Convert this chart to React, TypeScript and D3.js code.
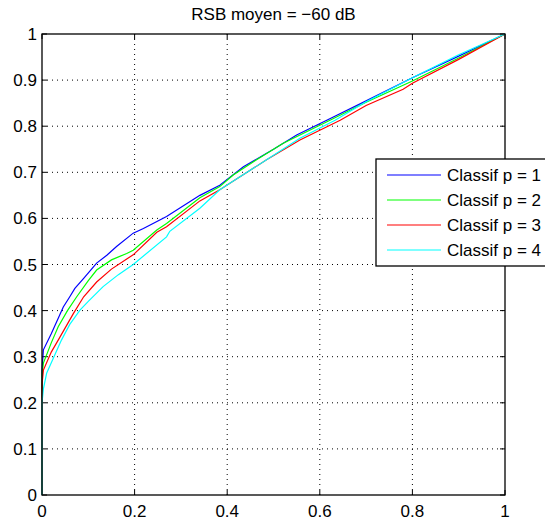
import React from "react";
import * as d3 from "d3";

const W = 545;
const H = 523;
const M = { left: 42, right: 40, top: 34, bottom: 28 };

const titleText = "RSB moyen = \u221260 dB";
const xTicks = [0, 0.2, 0.4, 0.6, 0.8, 1];
const yTicks = [0, 0.1, 0.2, 0.3, 0.4, 0.5, 0.6, 0.7, 0.8, 0.9, 1];
const seriesNames = ["Classif p = 1", "Classif p = 2", "Classif p = 3", "Classif p = 4"];
const seriesColors = ["#0000ff", "#00ff00", "#ff0000", "#00ffff"];

const p1: [number, number][] = [
  [0, 0], [0, 0.27], [0.003, 0.315], [0.02, 0.35], [0.046, 0.408], [0.06, 0.43], [0.071, 0.448],
  [0.09, 0.47], [0.118, 0.503], [0.14, 0.52], [0.161, 0.539], [0.197, 0.568], [0.219, 0.578],
  [0.269, 0.604], [0.341, 0.65], [0.384, 0.672], [0.435, 0.712], [0.5, 0.75], [0.55, 0.781],
  [0.615, 0.813], [0.7, 0.855], [0.8, 0.905], [0.9, 0.952], [1, 1],
];
const p2: [number, number][] = [
  [0, 0], [0, 0.26], [0.003, 0.286], [0.02, 0.33], [0.035, 0.365], [0.055, 0.4], [0.075, 0.43],
  [0.1, 0.465], [0.118, 0.488], [0.15, 0.51], [0.183, 0.524], [0.197, 0.531], [0.248, 0.575],
  [0.269, 0.589], [0.341, 0.645], [0.384, 0.669], [0.413, 0.694], [0.46, 0.725], [0.521, 0.763],
  [0.622, 0.813], [0.7, 0.852], [0.8, 0.898], [0.9, 0.948], [1, 1],
];
const p3: [number, number][] = [
  [0, 0], [0, 0.24], [0.003, 0.271], [0.02, 0.31], [0.035, 0.336], [0.068, 0.394], [0.09, 0.43],
  [0.118, 0.462], [0.15, 0.49], [0.183, 0.512], [0.197, 0.521], [0.248, 0.57], [0.269, 0.582],
  [0.341, 0.638], [0.384, 0.662], [0.399, 0.672], [0.485, 0.727], [0.557, 0.77], [0.644, 0.813],
  [0.7, 0.845], [0.78, 0.88], [0.8, 0.893], [0.9, 0.945], [1, 1],
];
const p4: [number, number][] = [
  [0, 0], [0, 0.2], [0.003, 0.23], [0.01, 0.264], [0.042, 0.336], [0.06, 0.37], [0.082, 0.401],
  [0.1, 0.42], [0.132, 0.452], [0.165, 0.478], [0.197, 0.5], [0.269, 0.56], [0.276, 0.572],
  [0.341, 0.622], [0.384, 0.662], [0.399, 0.672], [0.485, 0.727], [0.557, 0.774], [0.633, 0.813],
  [0.7, 0.853], [0.8, 0.905], [0.9, 0.955], [1, 1],
];
const seriesData = [p1, p2, p3, p4];

export default function App() {
  const x = d3.scaleLinear().domain([0, 1]).range([M.left, W - M.right]);
  const y = d3.scaleLinear().domain([0, 1]).range([H - M.bottom, M.top]);
  const line = d3
    .line<[number, number]>()
    .x((d) => x(d[0]))
    .y((d) => y(d[1]));
  const x0 = x(0), x1 = x(1), y0 = y(0), y1 = y(1);
  const font = "'Liberation Sans', Arial, Helvetica, sans-serif";
  const fs = 17;
  const tick = 5;
  const lgX = 376, lgY = 159, lgRow = 25;
  return (
    <svg width={W} height={H} style={{ position: "absolute", left: 0, top: 0, display: "block", background: "#fff" }} fontFamily={font}>
      <rect x={0} y={0} width={W} height={H} fill="#fff" />
      {xTicks.slice(1, -1).map((t) => (
        <line key={"gx" + t} x1={x(t)} x2={x(t)} y1={y0} y2={y1} stroke="#000" strokeWidth={1} strokeDasharray="1,4" />
      ))}
      {yTicks.slice(1, -1).map((t) => (
        <line key={"gy" + t} x1={x0} x2={x1} y1={y(t)} y2={y(t)} stroke="#000" strokeWidth={1} strokeDasharray="1,4" />
      ))}
      {xTicks.map((t) => (
        <g key={"tx" + t}>
          <line x1={x(t)} x2={x(t)} y1={y0} y2={y0 - tick} stroke="#000" />
          <line x1={x(t)} x2={x(t)} y1={y1} y2={y1 + tick} stroke="#000" />
          <text x={x(t)} y={y0 + 22} fontSize={fs} textAnchor="middle" fill="#000">{String(t)}</text>
        </g>
      ))}
      {yTicks.map((t) => (
        <g key={"ty" + t}>
          <line x1={x0} x2={x0 + tick} y1={y(t)} y2={y(t)} stroke="#000" />
          <line x1={x1} x2={x1 - tick} y1={y(t)} y2={y(t)} stroke="#000" />
          <text x={x0 - 5} y={y(t) + 6} fontSize={fs} textAnchor="end" fill="#000">{String(t)}</text>
        </g>
      ))}
      {seriesData.map((d, i) => (
        <path key={"s" + i} d={line(d) || ""} fill="none" stroke={seriesColors[i]} strokeWidth={1.2} />
      ))}
      <rect x={x0} y={y1} width={x1 - x0} height={y0 - y1} fill="none" stroke="#000" strokeWidth={1.3} />
      <text x={(x0 + x1) / 2} y={20} fontSize={fs} textAnchor="middle" fill="#000">{titleText}</text>
      <rect x={lgX} y={lgY} width={200} height={107} fill="#fff" stroke="#000" strokeWidth={1.3} />
      {seriesNames.map((n, i) => (
        <g key={"lg" + i}>
          <line x1={lgX + 11} x2={lgX + 65} y1={lgY + 16 + i * lgRow} y2={lgY + 16 + i * lgRow} stroke={seriesColors[i]} strokeWidth={1.2} />
          <text x={lgX + 71} y={lgY + 16 + i * lgRow + 6} fontSize={fs} fill="#000">{n}</text>
        </g>
      ))}
    </svg>
  );
}
